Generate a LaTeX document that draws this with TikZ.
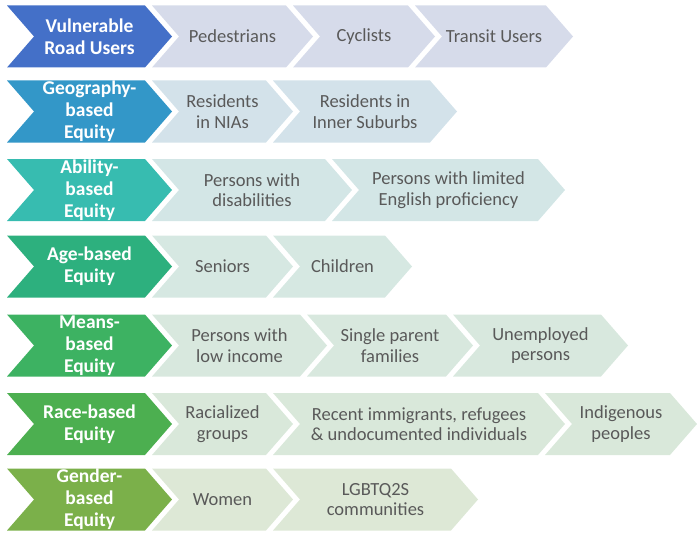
\documentclass[tikz,border=0pt]{standalone}
\usepackage{fontspec}
\setmainfont{Carlito}
\usepackage{tikz}
\definecolor{VruBlue}{HTML}{4470C8}
\definecolor{GeoBlue}{HTML}{3397C8}
\definecolor{AbilTeal}{HTML}{37BCB0}
\definecolor{AgeGreen}{HTML}{2DB07E}
\definecolor{MeansGreen}{HTML}{3DB262}
\definecolor{RaceGreen}{HTML}{4CAF50}
\definecolor{GenderGreen}{HTML}{7BB04A}
\definecolor{VruLight}{HTML}{D6DBEA}
\definecolor{GeoLight}{HTML}{D3E2EA}
\definecolor{AbilLight}{HTML}{D3E6E6}
\definecolor{AgeLight}{HTML}{D6E8E2}
\definecolor{MeansLight}{HTML}{D8E8DE}
\definecolor{RaceLight}{HTML}{D9E8DA}
\definecolor{GenderLight}{HTML}{DDE8D6}
\definecolor{ItemGray}{HTML}{595959}

\tikzset{
  headtxt/.style={align=center,text=white,inner sep=0pt,
    font=\fontsize{19.5}{22}\selectfont\bfseries},
  itemtxt/.style={align=center,text=ItemGray,inner sep=0pt,
    font=\fontsize{18.5}{20.5}\selectfont}
}

% chevron: name, left edge, tip, middle y, fill, text style, text
\newcommand{\chevbox}[7]{%
  \fill[#5] (#2,#4-31) -- ({#3-27},#4-31) -- (#3,#4) -- ({#3-27},#4+31)
    -- (#2,#4+31) -- ({#2+27},#4) -- cycle;
  \node[#6] (#1) at ({(#2+#3)/2},#4) {#7};
}

\begin{document}
\begin{tikzpicture}[x=1pt,y=-1pt]
  \useasboundingbox (0,0) rectangle (697,535);

  % vulnerable road users
  \chevbox{vru}{7}{172}{36.5}{VruBlue}{headtxt}{Vulnerable\\Road Users}
  \chevbox{ped}{152}{313}{36.5}{VruLight}{itemtxt}{Pedestrians}
  \chevbox{cyc}{293}{435}{36.5}{VruLight}{itemtxt}{Cyclists}
  \chevbox{transit}{415}{573}{36.5}{VruLight}{itemtxt}{Transit Users}

  % geography
  \chevbox{geo}{7}{172}{111.5}{GeoBlue}{headtxt}{Geography-\\based\\Equity}
  \chevbox{nia}{152}{293}{111.5}{GeoLight}{itemtxt}{Residents\\in NIAs}
  \chevbox{inner}{273}{457}{111.5}{GeoLight}{itemtxt}{Residents in\\Inner Suburbs}

  % ability
  \chevbox{abil}{7}{172}{190}{AbilTeal}{headtxt}{Ability-\\based\\Equity}
  \chevbox{disab}{152}{352}{190}{AbilLight}{itemtxt}{Persons with\\disabilities}
  \chevbox{english}{332}{565}{190}{AbilLight}{itemtxt}{Persons with limited\\English proficiency}

  % age
  \chevbox{age}{7}{172}{266.5}{AgeGreen}{headtxt}{Age-based\\Equity}
  \chevbox{senior}{152}{293}{266.5}{AgeLight}{itemtxt}{Seniors}
  \chevbox{child}{273}{412}{266.5}{AgeLight}{itemtxt}{Children}

  % means
  \chevbox{means}{7}{172}{345.5}{MeansGreen}{headtxt}{Means-\\based\\Equity}
  \chevbox{lowinc}{152}{327}{345.5}{MeansLight}{itemtxt}{Persons with\\low income}
  \chevbox{single}{307}{473}{345.5}{MeansLight}{itemtxt}{Single parent\\families}
  \chevbox{unemp}{453}{628}{345.5}{MeansLight}{itemtxt}{Unemployed\\persons}

  % race
  \chevbox{race}{7}{172}{424}{RaceGreen}{headtxt}{Race-based\\Equity}
  \chevbox{racial}{152}{293}{424}{RaceLight}{itemtxt}{Racialized\\groups}
  \chevbox{immig}{273}{565}{424}{RaceLight}{itemtxt}{Recent immigrants, refugees\\\& undocumented individuals}
  \chevbox{indig}{545}{697}{424}{RaceLight}{itemtxt}{Indigenous\\peoples}

  % gender
  \chevbox{gender}{7}{172}{499.5}{GenderGreen}{headtxt}{Gender-\\based\\Equity}
  \chevbox{women}{152}{293}{499.5}{GenderLight}{itemtxt}{Women}
  \chevbox{lgbtq}{273}{478}{499.5}{GenderLight}{itemtxt}{LGBTQ2S\\communities}
\end{tikzpicture}
\end{document}
